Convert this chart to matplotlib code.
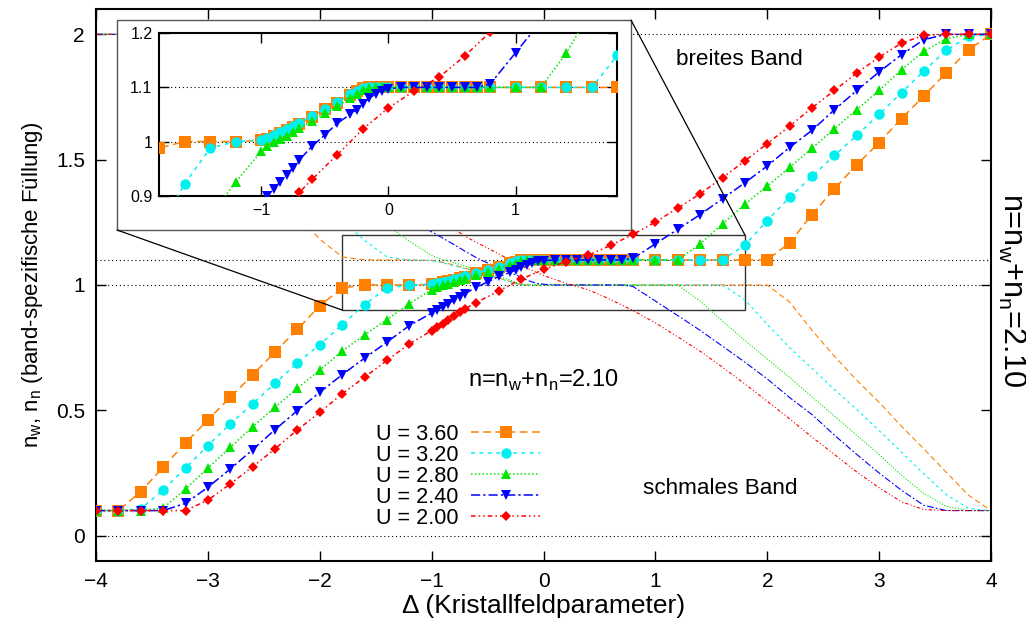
import matplotlib
matplotlib.use("Agg")
import matplotlib.pyplot as plt
from matplotlib.patches import Rectangle, ConnectionPatch

plt.rcParams['font.family'] = ['Liberation Sans', 'DejaVu Sans']
plt.rcParams['mathtext.fontset'] = 'custom'
plt.rcParams['mathtext.rm'] = 'Liberation Sans'

# total filling n = n_w + n_n
n_total = 2.1

# --- wide band filling n_w for each U ---
x_36 = [-4.0, -3.8, -3.6, -3.4, -3.2, -3.0, -2.8, -2.6, -2.4, -2.2, -2.0, -1.8, -1.6, -1.4, -1.2,
        -1.0, -0.95, -0.9, -0.85, -0.8, -0.75, -0.7, -0.6, -0.5, -0.4, -0.3, -0.25, -0.2, -0.15,
        -0.1, -0.05, 0.0, 0.1, 0.2, 0.3, 0.4, 0.5, 0.6, 0.7, 0.8, 1.0, 1.2, 1.4, 1.6, 1.8, 2.0,
        2.2, 2.4, 2.6, 2.8, 3.0, 3.2, 3.4, 3.6, 3.8, 4.0]
nw_36 = [0.1, 0.1, 0.176, 0.273, 0.370, 0.462, 0.552, 0.641, 0.733, 0.823, 0.917, 0.988, 1.0, 1.0, 1.0,
         1.002, 1.005, 1.010, 1.015, 1.021, 1.027, 1.033, 1.046, 1.060, 1.072, 1.086, 1.093, 1.098, 1.1,
         1.1, 1.1, 1.1, 1.1, 1.1, 1.1, 1.1, 1.1, 1.1, 1.1, 1.1, 1.1, 1.1, 1.1, 1.1, 1.1, 1.1,
         1.168, 1.281, 1.384, 1.480, 1.568, 1.664, 1.754, 1.847, 1.939, 2.0]

x_32 = x_36
nw_32 = [0.1, 0.1, 0.107, 0.182, 0.270, 0.359, 0.446, 0.526, 0.608, 0.689, 0.762, 0.841, 0.922, 0.988, 1.0,
         1.003, 1.007, 1.012, 1.017, 1.023, 1.029, 1.035, 1.047, 1.061, 1.073, 1.087, 1.094, 1.098, 1.1,
         1.1, 1.1, 1.1, 1.1, 1.1, 1.1, 1.1, 1.1, 1.1, 1.1, 1.1, 1.1, 1.1, 1.1, 1.1, 1.159, 1.257,
         1.350, 1.433, 1.517, 1.597, 1.681, 1.767, 1.854, 1.936, 1.992, 2.0]

x_28 = x_36
nw_28 = [0.1, 0.1, 0.1, 0.110, 0.186, 0.270, 0.352, 0.435, 0.512, 0.588, 0.661, 0.736, 0.801, 0.862, 0.925,
         0.982, 0.992, 0.999, 1.005, 1.011, 1.018, 1.025, 1.038, 1.052, 1.065, 1.080, 1.088, 1.095, 1.099,
         1.1, 1.1, 1.1, 1.1, 1.1, 1.1, 1.1, 1.1, 1.1, 1.1, 1.1, 1.1, 1.1, 1.164, 1.244, 1.322, 1.395,
         1.469, 1.546, 1.623, 1.700, 1.776, 1.859, 1.932, 1.983, 2.0, 2.0]

x_24 = x_36
nw_24 = [0.1, 0.1, 0.1, 0.1, 0.129, 0.193, 0.266, 0.343, 0.423, 0.499, 0.572, 0.642, 0.708, 0.772, 0.838,
         0.888, 0.900, 0.913, 0.926, 0.939, 0.952, 0.966, 0.991, 1.012, 1.034, 1.050, 1.059, 1.070, 1.080,
         1.088, 1.094, 1.097, 1.1, 1.1, 1.1, 1.1, 1.1, 1.1, 1.1, 1.106, 1.164, 1.222, 1.281, 1.344, 1.408, 1.475,
         1.549, 1.617, 1.699, 1.776, 1.850, 1.919, 1.979, 2.0, 2.0, 2.0]

x_20 = [-4.0, -3.8, -3.6, -3.4, -3.2, -3.0, -2.8, -2.6, -2.4, -2.2, -2.0, -1.8, -1.6, -1.4, -1.2,
        -1.0, -0.95, -0.9, -0.85, -0.8, -0.75, -0.7, -0.6, -0.4, -0.2, 0.0, 0.2, 0.4, 0.6, 0.8,
        1.0, 1.2, 1.4, 1.6, 1.8, 2.0, 2.2, 2.4, 2.6, 2.8, 3.0, 3.2, 3.4, 3.6, 3.8, 4.0]
nw_20 = [0.1, 0.1, 0.1, 0.1, 0.1, 0.142, 0.206, 0.275, 0.346, 0.422, 0.492, 0.566, 0.632, 0.699, 0.765,
         0.818, 0.832, 0.846, 0.861, 0.876, 0.891, 0.906, 0.930, 0.976, 1.023, 1.062, 1.093, 1.119, 1.158, 1.202,
         1.251, 1.307, 1.364, 1.428, 1.495, 1.564, 1.634, 1.707, 1.776, 1.846, 1.909, 1.965, 1.996, 2.0, 2.0, 2.0]

labels = ['U = 3.60', 'U = 3.20', 'U = 2.80', 'U = 2.40', 'U = 2.00']
xs = [x_36, x_32, x_28, x_24, x_20]
nws = [nw_36, nw_32, nw_28, nw_24, nw_20]
colors = ['#ff8000', '#00f0f0', '#00e600', '#0000ff', '#ff0000']
markers = ['s', 'o', '^', 'v', 'D']
msizes = [8, 7.5, 7, 7, 5.5]
styles = [(0, (5, 3)), (0, (2.5, 3)), (0, (1, 1.5)), (0, (6, 2, 1.5, 2)), (0, (3, 2, 1, 2, 1, 2))]

fig = plt.figure(figsize=(10.26, 6.31), dpi=100)
ax = fig.add_axes([0.0936, 0.1114, 0.8723, 0.8739])
ax.set_zorder(0)

# reference levels
for yl in [0.0, 1.0, 1.1, 2.0]:
    ax.axhline(yl, color='black', linestyle=(0, (1, 2.5)), linewidth=0.8, zorder=1)

for x, nw, c, ls in zip(xs, nws, colors, styles):
    nn = [n_total - v for v in nw]  # narrow band filling
    ax.plot(x, nn, color=c, linestyle=ls, linewidth=0.8, zorder=2)
for x, nw, c, m, ms, ls, lab in zip(xs, nws, colors, markers, msizes, styles, labels):
    ax.plot(x, nw, color=c, linestyle=ls, linewidth=1.1, marker=m, markersize=ms,
            markeredgewidth=0, label=lab, zorder=3)

ax.set_xlim(-4, 4)
ax.set_ylim(-0.1, 2.1)
ax.set_xticks([-4, -3, -2, -1, 0, 1, 2, 3, 4])
ax.set_yticks([0, 0.5, 1, 1.5, 2])
ax.set_yticklabels(['0', '0.5', '1', '1.5', '2'])
ax.tick_params(direction='in', length=7, width=1, top=True, right=True, labelsize=15, pad=8)
for s in ax.spines.values():
    s.set_linewidth(1.5)
ax.set_xlabel('Δ (Kristallfeldparameter)', fontsize=19, labelpad=2)
ax.set_ylabel(r'n$_\mathrm{w}$, n$_\mathrm{n}$ (band-spezifische Füllung)', fontsize=16, labelpad=8)

ax.add_patch(Rectangle((-1.8, 0.9), 3.6, 0.3, fill=False, edgecolor='#333333', linewidth=1.0, zorder=1.5))

ax.text(1.75, 1.9, 'breites Band', fontsize=16.2, ha='center', va='center')
ax.text(1.58, 0.19, 'schmales Band', fontsize=16.2, ha='center', va='center')
ax.text(0.0, 0.62, r'n=n$_\mathrm{w}$+n$_\mathrm{n}$=2.10', fontsize=17, ha='center', va='center')
fig.text(0.986, 0.54, r'n=n$_\mathrm{w}$+n$_\mathrm{n}$=2.10', fontsize=22, ha='center', va='center',
         rotation=-90)

ax.legend(loc='upper left', bbox_to_anchor=(0.366, 0.328), bbox_transform=fig.transFigure,
          frameon=False, markerfirst=False, numpoints=1, fontsize=15.6, handlelength=3.2,
          handletextpad=0.6, labelspacing=0.0, borderpad=0, borderaxespad=0)

# inset box and connectors
box = Rectangle((0.1140, 0.6355), 0.5010, 0.3328, transform=fig.transFigure, facecolor='white',
                edgecolor='#555555', linewidth=1.0, zorder=1)
fig.add_artist(box)
con1 = ConnectionPatch(xyA=(0.6150, 0.9683), coordsA=fig.transFigure, xyB=(1.8, 1.2), coordsB=ax.transData,
                       color='black', linewidth=0.9, zorder=1)
con2 = ConnectionPatch(xyA=(0.1140, 0.6355), coordsA=fig.transFigure, xyB=(-1.8, 0.9), coordsB=ax.transData,
                       color='black', linewidth=0.9, zorder=1)
fig.add_artist(con1)
fig.add_artist(con2)

axi = fig.add_axes([0.1553, 0.6899, 0.4464, 0.2574])
axi.set_zorder(2)
for yl in [1.0, 1.1]:
    axi.axhline(yl, color='black', linestyle=(0, (1, 2.5)), linewidth=0.8, zorder=1)
for x, nw, c, m, ms, ls in zip(xs, nws, colors, markers, msizes, styles):
    axi.plot(x, nw, color=c, linestyle=ls, linewidth=1.1, marker=m, markersize=ms,
             markeredgewidth=0, zorder=3)
axi.set_xlim(-1.8, 1.8)
axi.set_ylim(0.9, 1.2)
axi.set_xticks([-1, 0, 1])
axi.set_yticks([0.9, 1.0, 1.1, 1.2])
axi.set_yticklabels(['0.9', '1', '1.1', '1.2'])
axi.tick_params(direction='in', length=7, width=1, top=True, right=True, labelsize=11.5, pad=5)
for s in axi.spines.values():
    s.set_linewidth(1.5)

fig.savefig('out.png', dpi=100)
